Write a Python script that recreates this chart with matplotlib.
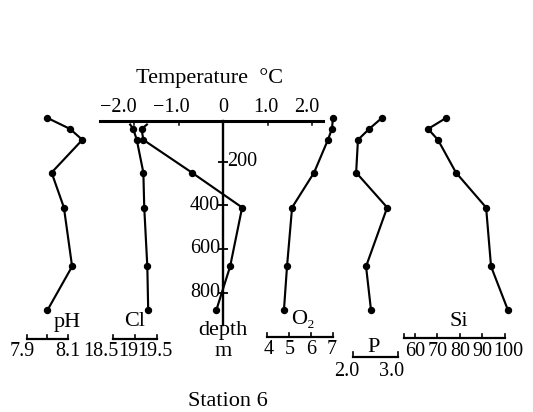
import matplotlib
matplotlib.use("Agg")
import matplotlib.pyplot as plt
from matplotlib import transforms as mtrans

# ---------------- data ----------------
depth = [0, 50, 100, 250, 410, 680, 880]          # m
depth_ct = [30, 50, 100, 250, 410, 680, 880]      # m (temperature / Cl lines start below axis)
temperature = [-1.71, -1.83, -1.79, -0.70, 0.43, 0.16, -0.15]
chlorinity = [18.89, 18.96, 19.04, 19.19, 19.21, 19.28, 19.30]
ph = [8.00, 8.11, 8.17, 8.02, 8.08, 8.12, 8.00]
oxygen = [7.00, 6.95, 6.77, 6.14, 5.14, 4.91, 4.77]
phosphate = [2.64, 2.36, 2.11, 2.07, 2.76, 2.29, 2.40]
silicate = [73.8, 65.8, 70.2, 78.2, 91.6, 93.8, 101.3]

temp_ticks = [-2.0, -1.0, 0.0, 1.0, 2.0]
temp_tick_labels = ["\u22122.0", "\u22121.0", "0", "1.0", "2.0"]
depth_ticks = [200, 400, 600, 800]
depth_tick_labels = ["200", "400", "600", "800"]
ph_ticks = [7.9, 8.0, 8.1]
ph_tick_labels = ["7.9", "", "8.1"]
cl_ticks = [18.5, 19.0, 19.5]
cl_tick_labels = ["18.5", "19", "19.5"]
o2_ticks = [4, 5, 6, 7]
o2_tick_labels = ["4", "5", "6", "7"]
p_ticks = [2.0, 3.0]
p_tick_labels = ["2.0", "3.0"]
si_ticks = [60, 70, 80, 90, 100]
si_tick_labels = ["60", "70", "80", "90", "100"]

# ---------------- layout ----------------
plt.rcParams["font.family"] = ["Liberation Serif", "DejaVu Serif"]
FS = 14.5    # numbers
FW = 16      # words
W, H = 533, 412
fig = plt.figure(figsize=(W / 100, H / 100), dpi=100)
Y0, PXM = 118.0, 0.2183        # pixel row of depth 0, pixels per metre


def fy(ypx):
    return 1 - ypx / H


def column(v_a, px_a, v_b, px_b):
    s = (px_b - px_a) / (v_b - v_a)
    ax = fig.add_axes([0, 0, 1, 1])
    ax.set_xlim(v_a - px_a / s, v_a + (W - px_a) / s)
    ax.set_ylim((H - Y0) / PXM, (0 - Y0) / PXM)
    ax.axis("off")
    ax.patch.set_alpha(0)
    return ax


def blend(ax):
    return mtrans.blended_transform_factory(ax.transData, fig.transFigure)


def profile(ax, x, y, skip_first=False):
    ax.plot(x, y, color="black", lw=1.55, marker="o", ms=4.3,
            markevery=list(range(1 if skip_first else 0, len(x))),
            clip_on=False, solid_joinstyle="round")


def bracket(ax, v0, v1, ticks, ypx, up=4.5):
    tr = blend(ax)
    ax.plot([v0, v1], [fy(ypx)] * 2, color="black", lw=1.6, transform=tr, clip_on=False)
    for t in ticks:
        ax.plot([t, t], [fy(ypx), fy(ypx - up)], color="black", lw=1.2,
                transform=tr, clip_on=False)


def labels(ax, ticks, texts, ypx, offsets, size=FS):
    tr = blend(ax)
    for t, s, dx in zip(ticks, texts, offsets):
        if s:
            ax.annotate(s, xy=(t, fy(ypx)), xycoords=tr, xytext=(dx, 0),
                        textcoords="offset pixels", ha="center", va="center",
                        fontsize=size)


# ---- temperature / depth panel ----
ax_t = column(0.0, 223, 1.0, 267.5)
trt = blend(ax_t)
ax_t.plot([-2.76, 2.25], [fy(121)] * 2, color="black", lw=2.2, transform=trt, clip_on=False)
for t in temp_ticks:
    if t != 0:
        ax_t.plot([t, t], [fy(121), fy(124.5)], color="black", lw=1.1, transform=trt)
labels(ax_t, temp_ticks, temp_tick_labels, 107, [-16, -7, 0, -2, -5])
ax_t.text(-0.3, fy(78), "Temperature  \u00b0C", transform=trt, ha="center",
          va="center", fontsize=FW)
ax_t.plot([0, 0], [fy(121), fy(325)], color="black", lw=1.7, transform=trt)
ax_t.plot([0] * len(depth_ticks), depth_ticks, ls="none", marker="_", ms=7,
          mew=1.3, color="black")
for d, s in zip(depth_ticks, depth_tick_labels):
    right = d == 200
    ax_t.annotate(s, xy=(0, d), xytext=(4 if right else -3, 0),
                  textcoords="offset pixels", ha="left" if right else "right",
                  va="center", fontsize=FS)
profile(ax_t, temperature, depth_ct, skip_first=True)
ax_t.text(0, fy(330), "depth", transform=trt, ha="center", va="center", fontsize=FW)
ax_t.text(0, fy(352), "m", transform=trt, ha="center", va="center", fontsize=FW)
ax_t.text(0.12, fy(401), "Station 6", transform=trt, ha="center", va="center",
          fontsize=FW)

# ---- pH ----
ax_ph = column(7.9, 27, 8.1, 68)
profile(ax_ph, ph, depth)
bracket(ax_ph, ph_ticks[0], ph_ticks[-1], ph_ticks, 339)
labels(ax_ph, ph_ticks, ph_tick_labels, 351, [-5, 0, 0])
ax_ph.text(8.095, fy(322), "pH", transform=blend(ax_ph), ha="center", va="center",
           fontsize=FW)

# ---- Cl ----
ax_cl = column(18.5, 113, 19.5, 157)
profile(ax_cl, chlorinity, depth_ct, skip_first=True)
bracket(ax_cl, cl_ticks[0], cl_ticks[-1], cl_ticks, 339)
labels(ax_cl, cl_ticks, cl_tick_labels, 351, [-12, -7, -2])
ax_cl.text(19.0, fy(322), "Cl", transform=blend(ax_cl), ha="center", va="center",
           fontsize=FW)

# ---- O2 ----
ax_o = column(4.0, 267, 7.0, 333)
profile(ax_o, oxygen, depth)
bracket(ax_o, o2_ticks[0], o2_ticks[-1], o2_ticks, 337)
labels(ax_o, o2_ticks, o2_tick_labels, 350, [2, 1, 0, -1])
ax_o.text(5.65, fy(320), "O\u2082", transform=blend(ax_o), ha="center", va="center",
          fontsize=FW)

# ---- P ----
ax_p = column(2.0, 353, 3.0, 398)
profile(ax_p, phosphate, depth)
bracket(ax_p, p_ticks[0], p_ticks[-1], p_ticks, 357, up=5)
labels(ax_p, p_ticks, p_tick_labels, 372, [-6, -6])
ax_p.text(2.45, fy(347), "P", transform=blend(ax_p), ha="center", va="center",
          fontsize=FW)

# ---- Si ----
ax_si = column(60, 415, 100, 505)
profile(ax_si, silicate, depth)
bracket(ax_si, 55, si_ticks[-1], [55] + si_ticks, 338, up=4)
labels(ax_si, si_ticks, si_tick_labels, 351, [0, 0, 0, 0, 3])
ax_si.text(79.5, fy(321), "Si", transform=blend(ax_si), ha="center", va="center",
           fontsize=FW)

fig.savefig("out.png", dpi=100)
